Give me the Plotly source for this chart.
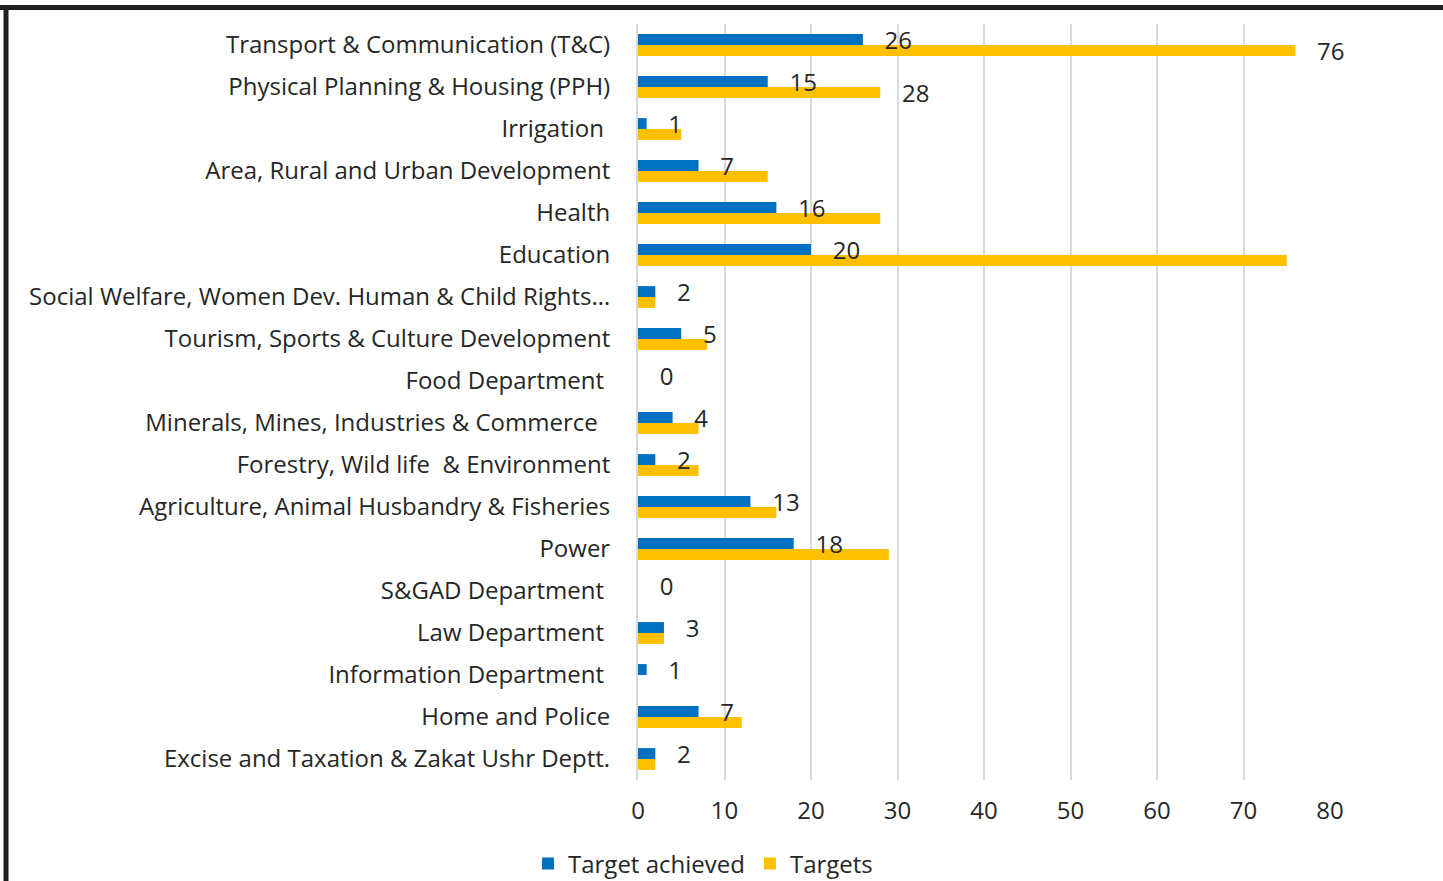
import plotly.graph_objects as go

NB = "\u00a0"
categories = [
    "Transport & Communication (T&C)",
    "Physical Planning & Housing (PPH)",
    "Irrigation" + NB,
    "Area, Rural and Urban Development",
    "Health",
    "Education",
    "Social Welfare, Women Dev. Human & Child Rights…",
    "Tourism, Sports & Culture Development",
    "Food Department" + NB,
    "Minerals, Mines, Industries & Commerce" + NB + NB,
    "Forestry, Wild life  & Environment",
    "Agriculture, Animal Husbandry & Fisheries",
    "Power",
    "S&GAD Department" + NB,
    "Law Department" + NB,
    "Information Department" + NB,
    "Home and Police",
    "Excise and Taxation & Zakat Ushr Deptt.",
]
achieved = [26, 15, 1, 7, 16, 20, 2, 5, 0, 4, 2, 13, 18, 0, 3, 1, 7, 2]
targets = [76, 28, 5, 15, 28, 75, 2, 8, 0, 7, 7, 16, 29, 0, 3, 0, 12, 2]
target_label_shown = [True, True] + [False] * 16
x_ticks = [0, 10, 20, 30, 40, 50, 60, 70, 80]

BLUE = "#0070C0"
YELLOW = "#FFC000"
TXT = "#262626"
FONT = "Open Sans"
FS = 24
PAD = NB * 3

W, H = 1443, 881
ML, MR, MT, MB = 638, 113, 24, 101
PW, PH = W - ML - MR, H - MT - MB

fig = go.Figure()
# bars
fig.add_trace(go.Bar(
    name="Target achieved", y=categories, x=achieved, orientation="h",
    offsetgroup="a", marker=dict(color=BLUE, line=dict(width=0)),
    hoverinfo="x+y",
))
fig.add_trace(go.Bar(
    name="Targets", y=categories, x=targets, orientation="h",
    offsetgroup="b", marker=dict(color=YELLOW, line=dict(width=0)),
    hoverinfo="x+y",
))
# data labels drawn above all bars
fig.add_trace(go.Bar(
    y=categories, x=achieved, orientation="h", offsetgroup="a",
    marker=dict(color="rgba(0,0,0,0)", line=dict(width=0)),
    text=[PAD + str(v) for v in achieved], textposition="outside",
    textfont=dict(family=FONT, size=FS, color=TXT),
    constraintext="none", cliponaxis=False, showlegend=False,
    hoverinfo="skip",
))
fig.add_trace(go.Bar(
    y=categories, x=targets, orientation="h", offsetgroup="b",
    marker=dict(color="rgba(0,0,0,0)", line=dict(width=0)),
    text=[PAD + str(v) if s else "" for v, s in zip(targets, target_label_shown)],
    textposition="outside",
    textfont=dict(family=FONT, size=FS, color=TXT),
    constraintext="none", cliponaxis=False, showlegend=False,
    hoverinfo="skip",
))


def px_x(p):
    return (p - ML) / PW


def px_y(p):
    return (H - MB - p) / PH


shapes = [
    dict(type="line", xref="paper", yref="paper",
         x0=px_x(0), x1=px_x(W), y0=px_y(7.5), y1=px_y(7.5),
         line=dict(color="#231f20", width=5)),
    dict(type="line", xref="paper", yref="paper",
         x0=px_x(6), x1=px_x(6), y0=px_y(5), y1=px_y(H),
         line=dict(color="#231f20", width=5)),
]

fig.update_layout(
    width=W, height=H,
    margin=dict(l=ML, r=MR, t=MT, b=MB, pad=0, autoexpand=False),
    paper_bgcolor="white", plot_bgcolor="white",
    barmode="group", bargap=0.48, bargroupgap=0,
    font=dict(family=FONT, size=FS, color=TXT),
    showlegend=True,
    legend=dict(orientation="h", x=px_x(703), xanchor="center",
                y=px_y(864), yanchor="middle",
                font=dict(family=FONT, size=FS, color=TXT),
                itemwidth=30, tracegroupgap=0),
    shapes=shapes,
    xaxis=dict(range=[0, 80], tickvals=x_ticks, showgrid=True,
               gridcolor="#D9D9D9", gridwidth=2, zeroline=False,
               showline=False, ticks="", ticklabelstandoff=14,
               tickfont=dict(family=FONT, size=FS, color=TXT),
               fixedrange=True),
    yaxis=dict(autorange="reversed", showgrid=False, zeroline=False,
               showline=True, linecolor="#D9D9D9", linewidth=2,
               ticks="", ticklabelstandoff=21,
               tickfont=dict(family=FONT, size=FS, color=TXT),
               fixedrange=True),
)

fig.write_html(
    "out.html",
    config=dict(displayModeBar=False),
    post_script="document.body.style.margin='0';document.body.style.padding='0';document.body.style.overflow='hidden';",
)
